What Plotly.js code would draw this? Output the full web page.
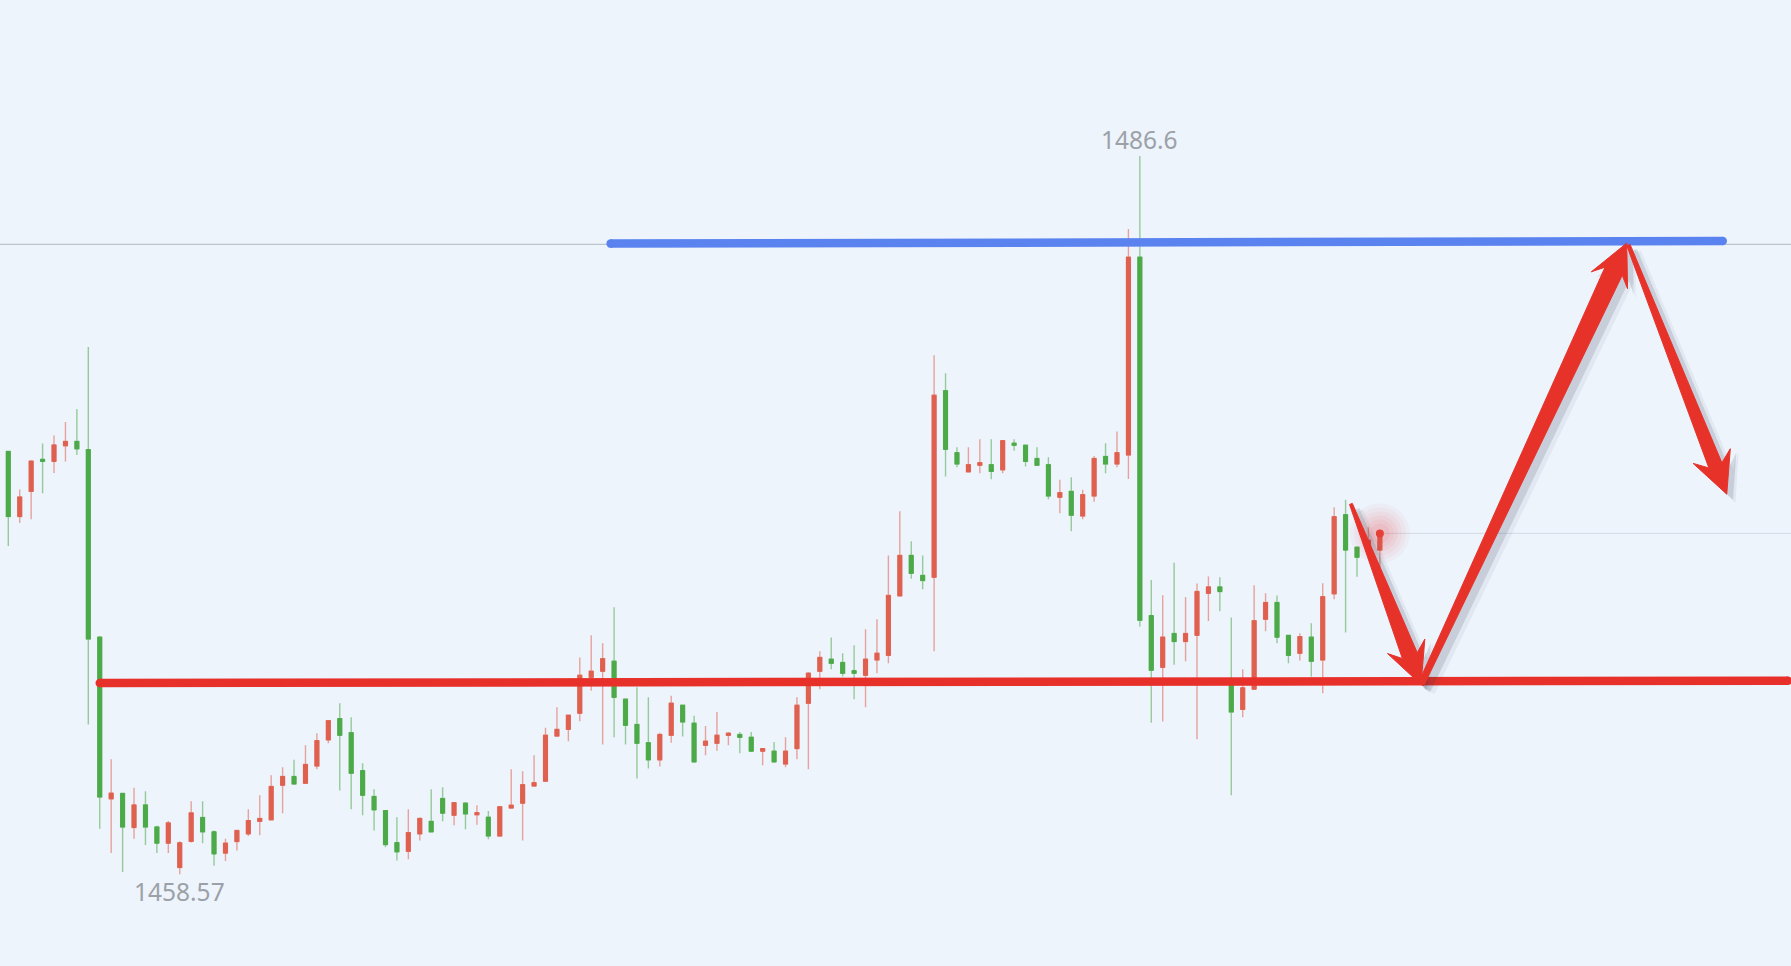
<!DOCTYPE html>
<html><head><meta charset="utf-8">
<script src="https://cdn.plot.ly/plotly-3.0.1.min.js"></script>
<style>html,body{margin:0;padding:0;background:#edf4fc;overflow:hidden}#chart{width:1791px;height:966px}</style>
</head><body><div id="chart"></div>
<script>
// ---- OHLC data ----
const open  = [1475.07,1472.53,1473.51,1474.76,1474.68,1475.29,1475.46,1475.14,1467.82,1461.51,
1461.72,1460.39,1461.27,1460.41,1459.78,1458.83,1459.85,1460.78,1460.22,1459.39,
1459.84,1460.14,1460.63,1460.69,1462.04,1462.38,1462.12,1462.79,1463.81,1464.64,
1464.09,1462.61,1461.60,1461.05,1459.80,1459.46,1460.14,1460.63,1461.52,1460.87,
1461.34,1460.89,1460.79,1460.06,1461.15,1461.34,1462.01,1462.20,1463.96,1464.22,
1464.85,1466.25,1466.49,1466.88,1465.40,1464.41,1463.70,1463.03,1463.99,1465.16,
1464.46,1463.60,1463.68,1463.99,1464.02,1463.91,1463.37,1463.37,1462.87,1463.47,
1465.24,1466.49,1466.96,1466.83,1466.51,1466.33,1466.93,1467.11,1469.43,1471.01,
1470.23,1470.16,1477.44,1475.02,1474.27,1474.53,1474.55,1474.35,1475.39,1475.31,
1474.79,1474.55,1473.28,1473.51,1472.55,1473.33,1474.87,1474.58,1474.93,1482.65,
1468.66,1466.64,1467.96,1467.65,1467.89,1469.53,1469.78,1466.01,1465.00,1465.79,
1468.52,1469.17,1467.89,1467.19,1467.82,1466.93,1469.51,1472.60,1471.33,1471.40,
1471.22];
const high  = [1475.10,1473.58,1474.72,1475.38,1475.69,1476.22,1476.72,1479.14,1467.85,1463.05,
1461.72,1461.94,1461.80,1460.46,1460.64,1459.85,1461.41,1461.41,1460.27,1459.95,
1460.27,1461.10,1461.65,1462.43,1462.74,1463.03,1463.60,1464.07,1464.59,1465.24,
1464.69,1462.90,1461.88,1461.05,1460.79,1461.10,1460.79,1461.88,1461.96,1461.36,
1461.39,1461.26,1461.03,1461.23,1462.66,1462.59,1463.21,1464.28,1465.08,1464.80,
1467.03,1467.89,1467.58,1468.99,1465.42,1465.86,1465.47,1464.09,1465.53,1465.16,
1464.75,1464.35,1464.90,1464.12,1464.12,1464.12,1463.47,1463.73,1463.91,1465.47,
1466.46,1467.27,1467.81,1467.19,1467.50,1468.13,1468.52,1471.01,1472.73,1471.56,
1471.01,1478.82,1478.12,1475.23,1475.23,1475.54,1475.54,1475.49,1475.54,1475.33,
1475.23,1474.84,1473.96,1474.06,1473.57,1474.89,1475.39,1475.85,1483.75,1486.60,
1470.05,1469.46,1470.72,1469.39,1469.91,1470.19,1470.16,1468.59,1466.57,1469.85,
1469.53,1469.45,1467.89,1467.97,1468.36,1469.92,1472.89,1473.18,1471.35,1472.11,
1472.00];
const low   = [1471.38,1472.28,1472.42,1473.44,1474.23,1474.68,1474.93,1464.41,1460.34,1459.39,
1458.65,1459.95,1459.71,1459.39,1459.39,1458.57,1459.80,1459.78,1458.90,1459.08,
1459.49,1460.06,1460.09,1460.69,1460.95,1462.09,1462.12,1462.66,1463.68,1461.83,
1461.10,1460.87,1460.27,1459.62,1459.10,1459.15,1459.88,1460.19,1460.63,1460.48,
1460.32,1460.50,1459.93,1460.06,1461.15,1459.88,1462.01,1462.20,1463.96,1463.76,
1464.54,1465.73,1463.63,1463.91,1463.63,1462.30,1462.69,1462.77,1463.70,1463.94,
1462.92,1463.21,1463.39,1463.60,1463.29,1463.34,1462.82,1462.92,1462.74,1463.05,
1462.66,1465.79,1466.57,1466.28,1465.40,1465.08,1466.41,1466.80,1469.43,1470.10,
1469.69,1467.27,1474.09,1474.45,1474.27,1474.22,1473.98,1474.22,1475.10,1474.48,
1474.50,1473.20,1472.66,1471.95,1472.42,1473.10,1474.22,1474.45,1473.99,1468.24,
1464.48,1464.53,1466.74,1466.88,1463.83,1468.45,1468.83,1461.65,1464.69,1465.79,
1468.05,1467.58,1466.80,1466.91,1466.28,1465.63,1469.30,1468.00,1470.18,1471.22,
1470.31];
const close = [1472.53,1473.29,1474.69,1474.68,1475.32,1475.46,1475.17,1467.75,1461.58,1461.73,
1460.41,1461.27,1460.41,1459.78,1460.57,1459.79,1460.96,1460.22,1459.36,1459.78,
1460.27,1460.66,1460.74,1461.99,1462.38,1462.09,1462.85,1463.78,1464.56,1463.99,
1462.51,1461.65,1461.08,1459.72,1459.44,1460.19,1460.74,1460.22,1460.95,1461.36,
1460.92,1460.97,1460.06,1461.20,1461.26,1462.06,1462.14,1463.99,1464.22,1464.77,
1466.33,1466.49,1466.98,1465.47,1464.38,1463.68,1463.03,1464.02,1465.24,1464.51,
1462.95,1463.76,1463.99,1464.07,1463.91,1463.37,1463.47,1462.95,1463.37,1465.16,
1466.41,1467.03,1466.80,1466.41,1466.41,1466.96,1467.19,1469.45,1471.01,1470.31,
1470.03,1477.26,1475.15,1474.58,1474.55,1474.63,1474.29,1475.49,1475.31,1474.68,
1474.53,1473.33,1473.46,1472.58,1473.38,1474.79,1474.58,1475.02,1482.65,1468.48,
1466.53,1467.82,1467.65,1467.96,1469.60,1469.78,1469.60,1464.90,1465.84,1468.46,
1469.17,1467.82,1467.11,1467.84,1466.88,1469.40,1472.52,1471.22,1470.94,1471.60,
1471.87];

// ---- drawn levels / annotations (candle index, price) ----
const supportX = [8.0, 155.7],   supportY = [1466.03, 1466.12];
const resistX  = [52.7, 150.0],  resistY  = [1483.18, 1483.28];
const priorHighLevel = 1483.15;
const arrowTails = [[117.47, 1473.02], [123.6, 1465.97], [141.75, 1483.12]];
const arrowTips  = [[123.6, 1465.97], [141.6, 1483.20], [150.35, 1473.40]];
const arrowTailW = [3, 6, 3.5];
const arrowNeckW = [16, 19, 14];

// ---- view ----
const W = 1791, H = 966;
const XR = [-0.7262, 155.97];
const YR = [1454.984, 1492.689];

const idx = open.map((_, i) => i);
const bodyHi = open.map((o, i) => Math.max(o, close[i]));
const bodyLo = open.map((o, i) => Math.min(o, close[i]));
const last = close.length - 1;

const RED = '#e0604f', GREEN = '#4caa48';
const RED_W = 'rgba(224,96,79,0.55)', GREEN_W = 'rgba(76,170,72,0.55)';
const LINE_RED = '#e8302a', LINE_BLUE = '#5a83f0';

const traces = [
  {type:'scatter', mode:'lines', x:[XR[0], XR[1]], y:[priorHighLevel, priorHighLevel],
   line:{color:'#bcc5c9', width:1.3}, hoverinfo:'skip'},
  {type:'scatter', mode:'lines', x:[last, XR[1]], y:[close[last], close[last]],
   line:{color:'rgba(190,200,215,0.55)', width:1}, hoverinfo:'skip'},
  {type:'candlestick', x:idx, open:open, high:high, low:low, close:close,
   increasing:{line:{color:RED_W, width:1.4}, fillcolor:RED_W},
   decreasing:{line:{color:GREEN_W, width:1.4}, fillcolor:GREEN_W},
   whiskerwidth:0, hoverinfo:'skip'},
  {type:'candlestick', x:idx, open:open, high:bodyHi, low:bodyLo, close:close,
   increasing:{line:{color:RED, width:1}, fillcolor:RED},
   decreasing:{line:{color:GREEN, width:1}, fillcolor:GREEN},
   whiskerwidth:0, hoverinfo:'skip'},
  {type:'scatter', mode:'lines+markers', x:supportX, y:supportY,
   line:{color:LINE_RED, width:8.5}, marker:{color:LINE_RED, size:8.5}, hoverinfo:'skip'},
  {type:'scatter', mode:'lines+markers', x:resistX, y:resistY,
   line:{color:LINE_BLUE, width:8.5}, marker:{color:LINE_BLUE, size:8.5}, hoverinfo:'skip'},
  {type:'scatter', mode:'markers', x:[last], y:[close[last]],
   marker:{color:'#e5453c', size:8}, hoverinfo:'skip'}
];

function toPx(x, y){ return [(x - XR[0])/(XR[1]-XR[0])*W, (YR[1]-y)/(YR[1]-YR[0])*H]; }
function toData(px, py){ return [XR[0] + px/W*(XR[1]-XR[0]), YR[1] - py/H*(YR[1]-YR[0])]; }

function arrowPath(tail, tip, tw, nw, dx, dy, grow){
  const a = toPx(tail[0], tail[1]), b = toPx(tip[0], tip[1]);
  const vx = b[0]-a[0], vy = b[1]-a[1], L = Math.hypot(vx, vy);
  const ux = vx/L, uy = vy/L, nx = -uy, ny = ux;
  const headLen = 41 + grow, headHalf = 20 + grow/2, neckLen = 31;
  const nk = [b[0]-ux*neckLen, b[1]-uy*neckLen];
  const bb = [b[0]-ux*headLen, b[1]-uy*headLen];
  const pts = [
    [a[0]+nx*tw/2, a[1]+ny*tw/2],
    [nk[0]+nx*nw/2, nk[1]+ny*nw/2],
    [bb[0]+nx*headHalf, bb[1]+ny*headHalf],
    [b[0]+ux*grow/2, b[1]+uy*grow/2],
    [bb[0]-nx*headHalf, bb[1]-ny*headHalf],
    [nk[0]-nx*nw/2, nk[1]-ny*nw/2],
    [a[0]-nx*tw/2, a[1]-ny*tw/2]
  ];
  return 'M' + pts.map(p => { const d = toData(p[0]+dx, p[1]+dy); return d[0].toFixed(4)+','+d[1].toFixed(4); }).join(' L') + ' Z';
}

const shapes = [];
// soft glow around the live candle
[[30,0.04],[26,0.045],[22,0.05],[18,0.055],[14,0.06],[10,0.07]].forEach(([r,a]) => {
  shapes.push({type:'circle', xref:'x', yref:'y', xsizemode:'pixel', ysizemode:'pixel',
    xanchor:last, yanchor:close[last], x0:-r, x1:r, y0:-r, y1:r,
    fillcolor:'rgba(235,60,60,' + a + ')', line:{width:0}, layer:'above'});
});
// arrow shadows then arrows
for (let k = 0; k < arrowTails.length; k++) {
  shapes.push({type:'path', xref:'x', yref:'y', path:arrowPath(arrowTails[k], arrowTips[k], arrowTailW[k]+6, arrowNeckW[k]+6, 8, 7, 4),
    fillcolor:'rgba(40,50,70,0.06)', line:{width:0}, layer:'above'});
  shapes.push({type:'path', xref:'x', yref:'y', path:arrowPath(arrowTails[k], arrowTips[k], arrowTailW[k]+2, arrowNeckW[k]+2, 6, 5, 1),
    fillcolor:'rgba(40,50,70,0.14)', line:{width:0}, layer:'above'});
}
for (let k = 0; k < arrowTails.length; k++) {
  shapes.push({type:'path', xref:'x', yref:'y', path:arrowPath(arrowTails[k], arrowTips[k], arrowTailW[k], arrowNeckW[k], 0, 0, 0),
    fillcolor:'#e7322a', line:{color:'#e7322a', width:1}, layer:'above'});
}

const maxHigh = Math.max(...high), minLow = Math.min(...low);
const iMax = high.indexOf(maxHigh), iMin = low.indexOf(minLow);
const labelFont = {family:'Noto Sans, Roboto, sans-serif', size:24.5, color:'#9ca1a7'};

const layout = {
  width:W, height:H, margin:{l:0, r:0, t:0, b:0},
  paper_bgcolor:'#edf4fc', plot_bgcolor:'#edf4fc',
  showlegend:false, boxgap:0.66, boxgroupgap:0,
  xaxis:{range:XR, visible:false, showgrid:false, zeroline:false, rangeslider:{visible:false}, fixedrange:true},
  yaxis:{range:YR, visible:false, showgrid:false, zeroline:false, fixedrange:true},
  shapes:shapes,
  annotations:[
    {x:iMax, y:maxHigh, xref:'x', yref:'y', text:String(maxHigh), showarrow:false,
     yanchor:'bottom', xanchor:'center', yshift:-2, font:labelFont},
    {x:iMin, y:minLow, xref:'x', yref:'y', text:String(minLow), showarrow:false,
     yanchor:'top', xanchor:'center', yshift:1, font:labelFont}
  ]
};

Plotly.newPlot('chart', traces, layout, {displayModeBar:false, staticPlot:true});
</script></body></html>
